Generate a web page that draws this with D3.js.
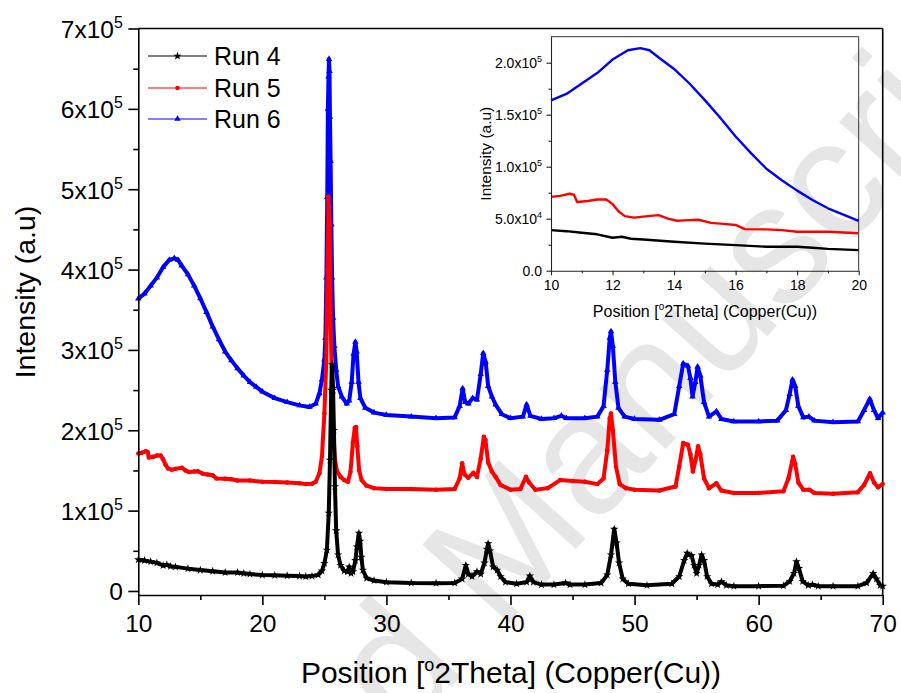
<!DOCTYPE html>
<html><head><meta charset="utf-8">
<script src="https://cdn.jsdelivr.net/npm/d3@7"></script>
<style>
body{margin:0;background:#fff}
svg{display:block;font-family:"Liberation Sans",Arial,Helvetica,sans-serif}
</style>
</head><body>
<svg id="chart" width="901" height="693"></svg>
<script>
// ---------- DATA (intensities in units of 10^3 counts) ----------
const seriesNames = ["Run 4", "Run 5", "Run 6"];
const seriesColors = ["#000000", "#ff0000", "#0000ff"];
const seriesOffsets = [0, 100, 200];   // vertical stacking offsets in main plot (10^3)

const run4 = [
[10,39],[10.5,38],[11,36.5],[11.5,35],[12,31.7],[12.3,32.6],[12.6,30.7],[13,30],[14,27.8],[15,26],[16,24.6],[17,23],[18,23],[18.5,22],[19,21],[20,19.8],
[21,19.5],[22,19],[23,18.5],[23.5,18],[24,18.5],[24.5,20],[24.8,25],[25.0,34.5],[25.2,51],[25.35,97],[25.45,163],[25.55,250],[25.62,282],[25.7,250],
[25.77,200],[25.85,130],[25.95,75],[26.1,45],[26.3,32],[26.6,25],[26.85,24],[27.0,30],[27.15,22],[27.3,24],[27.5,38],[27.62,55],[27.78,72],[27.88,62],
[27.98,42],[28.1,26],[28.4,16],[29,13],[30,11],[32,10],[34,9.7],[35.5,10],[36.1,15],[36.4,32],[36.6,21],[36.9,18],[37.3,24],[37.6,21],[37.9,35],[38.1,52],
[38.2,59],[38.35,50],[38.6,30],[38.93,26],[39.2,18],[39.6,11],[40.5,9],[41.3,11],[41.56,18.7],[41.85,11],[42.5,8],[43.5,8],[44.44,10],[44.8,8],[46,8],
[47.3,10],[47.8,20],[48.1,45],[48.36,77],[48.55,60],[48.75,35],[49.05,15],[49.5,9],[51,7],[53,9],[53.6,18],[54.0,38],[54.24,47],[54.6,44],[54.8,32],
[55.0,22],[55.2,32],[55.4,45],[55.6,38],[55.85,18],[56.2,9],[56.7,8],[57.0,11.6],[57.4,7],[58,6],[60,6],[62,6.5],[62.5,12],[62.85,22],[63.05,36.5],
[63.25,28],[63.55,12],[64.0,7],[64.34,8],[64.8,6],[66,6],[68,6],[68.7,10],[69.23,22],[69.5,15],[69.8,7],[70,6]
];

const run5 = [
[10,71],[10.3,72],[10.6,74],[10.75,73],[10.85,66],[11.2,67],[11.5,68.5],[11.8,68.5],[12.0,64],[12.2,57],[12.4,52.5],[12.7,51],[13.0,52],[13.5,53.4],
[13.8,50],[14.1,48],[14.5,48.6],[14.8,49],[15.2,46],[15.6,45],[16.0,44],[16.3,40],[17,39.7],[17.5,39],[18,37.4],[19,37.4],[20,36],
[21,35.5],[22,35],[23,34],[23.5,33],[24,33.5],[24.3,36],[24.6,46.6],[24.8,67],[25.0,121],[25.15,185],[25.25,300],[25.33,391],[25.42,355],[25.5,240],
[25.6,160],[25.7,100],[25.85,65],[26.0,50],[26.3,42],[26.6,38],[26.9,36],[27.1,48],[27.3,85],[27.45,103],[27.55,104],[27.65,80],[27.8,50],[28.0,38],
[28.4,31],[29,28],[30,27],[32,27],[34,26],[35.5,27],[35.9,40],[36.1,59],[36.3,45],[36.6,41],[37.0,47],[37.3,42],[37.6,65],[37.85,92],[37.98,88],
[38.2,60],[38.5,48.6],[38.8,42],[39.2,32],[40,26],[40.8,27],[41.25,42],[41.5,35],[42,26],[43,28],[44.0,38],[45,37],[46,36],[47,33],[47.5,40],[47.8,75],
[48.0,115],[48.1,121],[48.25,100],[48.5,55],[48.8,33],[49.3,28],[50,26],[52,25],[53.3,30],[53.6,55],[53.92,84],[54.3,82],[54.5,70],[54.7,48.6],[54.9,62],
[55.12,80],[55.3,70],[55.6,40],[56.0,28],[56.6,34],[57.0,25],[58,22],[60,22],[62,24],[62.4,40],[62.78,67],[62.95,58],[63.2,35],[63.6,26],[64.1,26],
[64.5,22],[66,21],[68,23],[68.5,32],[68.98,46.6],[69.3,35],[69.62,29],[70,33]
];

const run6 = [
[10,163.8],[10.5,170],[11,180],[11.5,190],[12,203],[12.5,212],[12.9,214],[13.2,212],[13.5,205],[14,194],[14.5,180],[15,164],[15.5,147],[16,129],
[16.5,113],[17,98],[17.5,87],[18,77],[18.5,68],[19,60],[19.5,54],[20,48],
[21,40],[22,35],[23,31],[23.8,29],[24.3,33],[24.6,46],[24.8,63],[25.0,88],[25.08,115],[25.16,190],[25.23,290],[25.28,400],[25.33,440],[25.37,462],
[25.41,447],[25.45,390],[25.5,335],[25.56,256],[25.62,190],[25.7,140],[25.8,105],[25.95,75],[26.1,55],[26.4,42],[26.8,33],[27.0,37],[27.2,60],
[27.35,95],[27.5,110],[27.6,98],[27.75,60],[27.9,40],[28.3,28],[29,22],[30,19],[32,17],[34,15],[35.5,16],[35.9,30],[36.14,52],[36.35,35],[36.6,33],
[36.95,40],[37.3,38],[37.6,70],[37.8,96],[38.0,85],[38.2,55],[38.5,42],[38.8,32],[39.3,20],[40,15],[41.0,17],[41.3,32],[41.6,18],[42.5,14],[43.5,15],
[44.1,18],[44.5,15],[46,15],[47,17],[47.5,30],[47.8,75],[48.0,115],[48.1,123],[48.25,105],[48.45,60],[48.7,28],[49.2,17],[50,14],[52,13],[53.2,20],
[53.6,55],[53.92,83],[54.3,80],[54.5,65],[54.67,42],[54.9,60],[55.08,79],[55.3,68],[55.6,35],[56.0,17],[56.6,23.5],[57.0,14],[58,11],[60,11],[61.5,12],
[62.2,25],[62.5,45],[62.73,63],[62.95,55],[63.2,30],[63.6,16],[64.05,17],[64.5,12],[66,10],[68,11],[68.5,25],[68.96,39],[69.3,25],[69.63,15],[70,22]
];

const xTicksMain = [10, 20, 30, 40, 50, 60, 70];
const xMinorMain = [15, 25, 35, 45, 55, 65];
const yTicksMain = [0, 100, 200, 300, 400, 500, 600, 700];
const yMinorMain = [50, 150, 250, 350, 450, 550, 650];
const yTickLabelsMain = [["0",""],["1x10","5"],["2x10","5"],["3x10","5"],["4x10","5"],["5x10","5"],["6x10","5"],["7x10","5"]];

const xTicksInset = [10, 12, 14, 16, 18, 20];
const xMinorInset = [11, 13, 15, 17, 19];
const yTicksInset = [0, 50, 100, 150, 200];
const yMinorInset = [25, 75, 125, 175];
const yTickLabelsInset = [["0.0",""],["5.0x10","4"],["1.0x10","5"],["1.5x10","5"],["2.0x10","5"]];

const watermarkText = "Accepted Manuscript";

// ---------- DRAWING ----------
const svg = d3.select("#chart");
const allSeries = [run4, run5, run6];
const symbols = [d3.symbolStar, d3.symbolCircle, d3.symbolTriangle];
const symbolSizes = [22, 16, 18];

// watermark
svg.append("text")
  .attr("transform", "translate(-6,1195) rotate(-48)")
  .attr("font-size", 170).attr("fill", "#e6e6e6")
  .text(watermarkText);

// main scales
const x = d3.scaleLinear().domain([10, 70]).range([138.3, 882.7]);
const y = d3.scaleLinear().domain([-5, 700]).range([595, 28.5]);

const main = svg.append("g");

function supLabels(sel, labels, ticks, supSize, rise) {
  sel.selectAll(".tick text").each(function(d) {
    const i = ticks.indexOf(d);
    if (i < 0) return;
    const t = d3.select(this);
    t.text(null);
    t.append("tspan").text(labels[i][0]);
    if (labels[i][1]) t.append("tspan").attr("dy", -rise).attr("font-size", supSize).text(labels[i][1]);
  });
}

// frame top/right
main.append("line").attr("x1", x(10)).attr("x2", x(70)).attr("y1", y(700)).attr("y2", y(700)).attr("stroke", "#000").attr("stroke-width", 1.6);
main.append("line").attr("x1", x(70)).attr("x2", x(70)).attr("y1", y(700)).attr("y2", y(-5)).attr("stroke", "#000").attr("stroke-width", 1.6);

// series in main plot (blue, red, black order so black is on top)
const line = d3.line().x(d => x(d[0])).y(d => y(d[1]));
[2, 1, 0].forEach(i => {
  const data = allSeries[i].map(d => [d[0], d[1] + seriesOffsets[i]]);
  const g = main.append("g");
  g.append("path").datum(data).attr("d", line)
    .attr("fill", "none").attr("stroke", seriesColors[i]).attr("stroke-width", 4).attr("stroke-linejoin", "round");
  g.selectAll("path.m").data(data).enter().append("path").attr("class", "m")
    .attr("transform", d => `translate(${x(d[0])},${y(d[1])})`)
    .attr("d", d3.symbol().type(symbols[i]).size(symbolSizes[i]))
    .attr("fill", seriesColors[i]);
});

// main axes
const xAxis = main.append("g").attr("transform", `translate(0,${y(-5)})`)
  .call(d3.axisBottom(x).tickValues(xTicksMain).tickSize(10).tickSizeOuter(0).tickFormat(d3.format("d")));
xAxis.selectAll("text").attr("y", 37).attr("dy", null).attr("font-size", 24.5).attr("fill", "#000");
xAxis.append("g").call(d3.axisBottom(x).tickValues(xMinorMain).tickSize(5).tickSizeOuter(0).tickFormat(""))
  .select(".domain").remove();

const yAxis = main.append("g").attr("transform", `translate(${x(10)},0)`)
  .call(d3.axisLeft(y).tickValues(yTicksMain).tickSize(10).tickSizeOuter(0));
yAxis.selectAll("text").attr("x", -15.5).attr("dy", "0.36em").attr("font-size", 24.5).attr("fill", "#000");
supLabels(yAxis, yTickLabelsMain, yTicksMain, 16, 10);
yAxis.append("g").call(d3.axisLeft(y).tickValues(yMinorMain).tickSize(5).tickSizeOuter(0).tickFormat(""))
  .select(".domain").remove();
main.selectAll(".domain, .tick line").attr("stroke", "#000").attr("stroke-width", 1.6);

// axis titles
const xt = main.append("text").attr("x", 511).attr("y", 683).attr("text-anchor", "middle").attr("font-size", 30);
xt.append("tspan").text("Position [");
xt.append("tspan").attr("dy", -12).attr("font-size", 18).text("o");
xt.append("tspan").attr("dy", 12).text("2Theta] (Copper(Cu))");
main.append("text").attr("transform", "translate(35,292) rotate(-90)").attr("text-anchor", "middle")
  .attr("font-size", 28.5).text("Intensity (a.u)");

// legend
const legY = [56, 88, 119];
seriesNames.forEach((name, i) => {
  const g = main.append("g");
  g.append("line").attr("x1", 148).attr("x2", 207).attr("y1", legY[i]).attr("y2", legY[i])
    .attr("stroke", seriesColors[i]).attr("stroke-width", 1.1);
  g.append("path").attr("transform", `translate(177.5,${legY[i]})`)
    .attr("d", d3.symbol().type(symbols[i]).size(symbolSizes[i])).attr("fill", seriesColors[i]);
  g.append("text").attr("x", 214).attr("y", legY[i] + 9).attr("font-size", 25).text(name);
});

// ---------- INSET ----------
const xi = d3.scaleLinear().domain([10, 20]).range([551, 858.7]);
const yi = d3.scaleLinear().domain([0, 225]).range([270.7, 36.7]);
const inset = svg.append("g");
inset.append("line").attr("x1", xi(10)).attr("x2", xi(20)).attr("y1", yi(225)).attr("y2", yi(225)).attr("stroke", "#333").attr("stroke-width", 1);
inset.append("line").attr("x1", xi(20)).attr("x2", xi(20)).attr("y1", yi(225)).attr("y2", yi(0)).attr("stroke", "#333").attr("stroke-width", 1);

const linei = d3.line().x(d => xi(d[0])).y(d => yi(d[1]));
[2, 1, 0].forEach(i => {
  const data = allSeries[i].filter(d => d[0] <= 20);
  inset.append("path").datum(data).attr("d", linei)
    .attr("fill", "none").attr("stroke", seriesColors[i]).attr("stroke-width", 2.4).attr("stroke-linejoin", "round");
});

const xAxI = inset.append("g").attr("transform", `translate(0,${yi(0)})`)
  .call(d3.axisBottom(xi).tickValues(xTicksInset).tickSize(4.5).tickSizeOuter(0).tickFormat(d3.format("d")));
xAxI.selectAll("text").attr("y", 19.5).attr("dy", null).attr("font-size", 14).attr("fill", "#000");
xAxI.append("g").call(d3.axisBottom(xi).tickValues(xMinorInset).tickSize(2.5).tickSizeOuter(0).tickFormat(""))
  .select(".domain").remove();

const yAxI = inset.append("g").attr("transform", `translate(${xi(10)},0)`)
  .call(d3.axisLeft(yi).tickValues(yTicksInset).tickSize(4.5).tickSizeOuter(0));
yAxI.selectAll("text").attr("x", -9).attr("dy", "0.36em").attr("font-size", 14).attr("fill", "#000");
supLabels(yAxI, yTickLabelsInset, yTicksInset, 9, 6);
yAxI.append("g").call(d3.axisLeft(yi).tickValues(yMinorInset).tickSize(2.5).tickSizeOuter(0).tickFormat(""))
  .select(".domain").remove();
inset.selectAll(".domain, .tick line").attr("stroke", "#222").attr("stroke-width", 1.1);

const xti = inset.append("text").attr("x", 705).attr("y", 316.5).attr("text-anchor", "middle").attr("font-size", 16);
xti.append("tspan").text("Position [");
xti.append("tspan").attr("dy", -6.5).attr("font-size", 10).text("o");
xti.append("tspan").attr("dy", 6.5).text("2Theta] (Copper(Cu))");
inset.append("text").attr("transform", "translate(491,153.7) rotate(-90)").attr("text-anchor", "middle")
  .attr("font-size", 15.5).text("Intensity (a.u)");
</script>
</body></html>
